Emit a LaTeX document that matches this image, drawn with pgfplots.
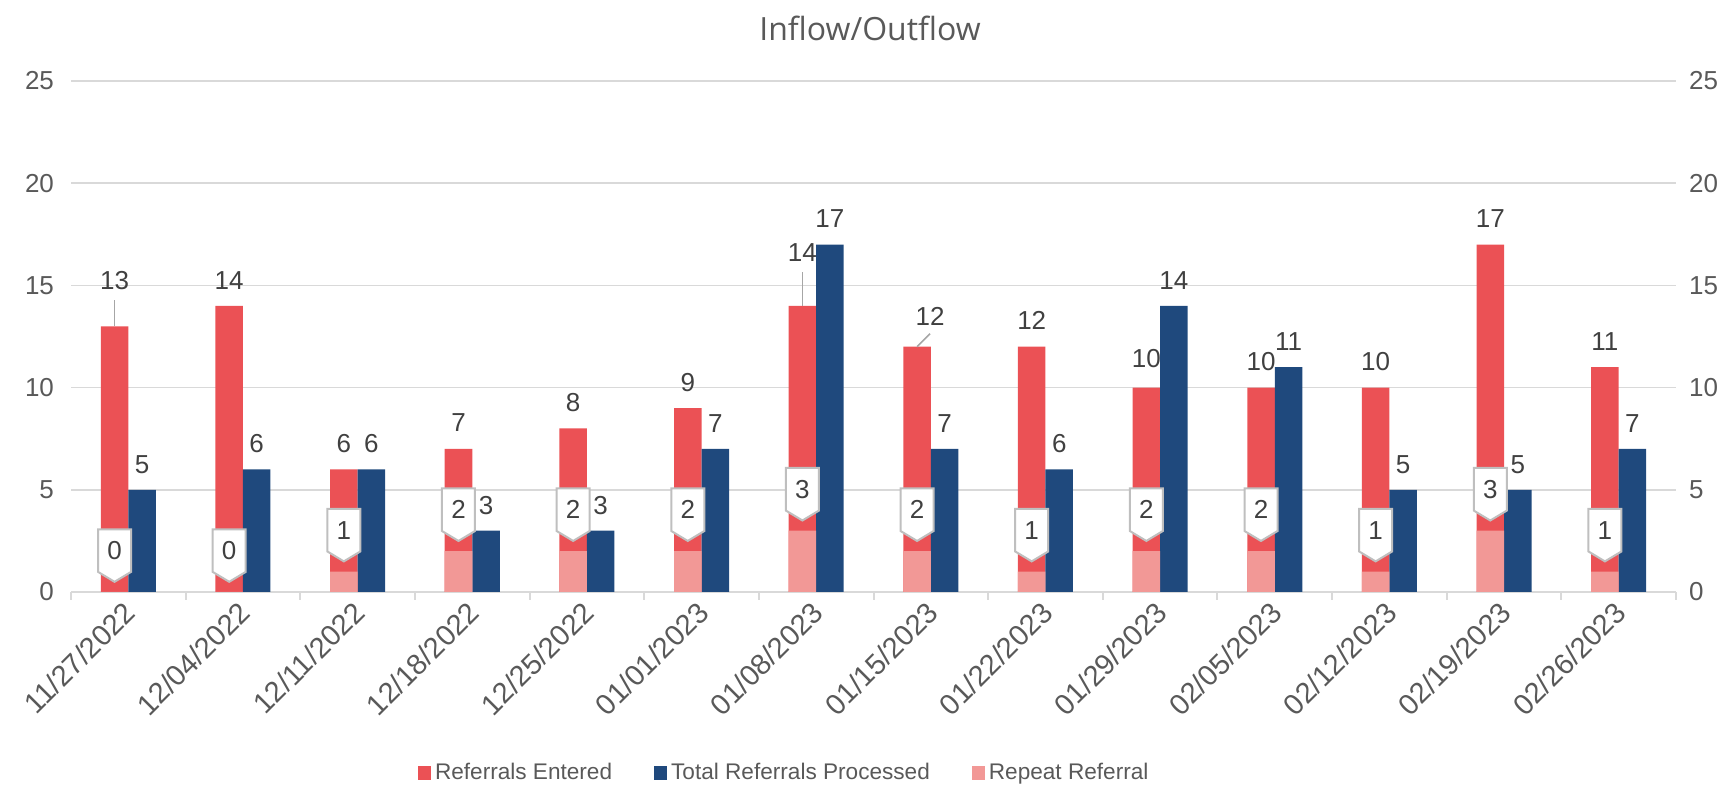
\documentclass[border=0pt]{standalone}
\usepackage{fontspec}
\setmainfont{Liberation Sans}
\newfontfamily\titlefont{Open Sans}
\usepackage{pgfplots}
\usepackage{pgfplotstable}
\pgfplotsset{compat=1.18}
\usetikzlibrary{shapes.symbols}
\definecolor{cRed}{HTML}{EB5155}
\definecolor{cBlue}{HTML}{1F497D}
\definecolor{cPink}{HTML}{F29896}
\definecolor{gridc}{HTML}{D9D9D9}
\definecolor{tickc}{HTML}{595959}
\definecolor{labc}{HTML}{404040}
\definecolor{callb}{HTML}{BFBFBF}
\definecolor{leadc}{HTML}{A6A6A6}

% dx, dy: label offsets (pt) from the bar top at the category centre
\pgfplotstableread{
x y dx dy
0 13 -6.88 18.4
1 14 -6.88 8.3
2 6 -6.88 8.3
3 7 -6.88 8.8
4 8 -6.88 8.3
5 9 -6.88 8.3
6 14 -6.88 22.3
7 12 -0.38 10.8
8 12 -6.88 8.8
9 10 -6.88 9.8
10 10 -6.88 8.3
11 10 -6.88 8.3
12 17 -6.88 8.3
13 11 -6.88 8.3
}\enteredtab

\pgfplotstableread{
x y
0 5
1 6
2 6
3 3
4 3
5 7
6 17
7 7
8 6
9 14
10 11
11 5
12 5
13 7
}\processedtab

\pgfplotstableread{
x y
0 0
1 0
2 1
3 2
4 2
5 2
6 3
7 2
8 1
9 2
10 2
11 1
12 3
13 1
}\repeattab

\newcommand{\numfont}{\fontsize{13}{14}\selectfont}

\begin{document}
\begin{tikzpicture}
\path[use as bounding box] (0,0) rectangle (867pt,392.5pt);
\begin{axis}[
  at={(35.5pt,96.5pt)}, anchor=south west,
  scale only axis, width=802.5pt, height=255.5pt,
  xmin=-0.5, xmax=13.5, ymin=0, ymax=25,
  /pgf/number format/assume math mode=true,
  axis x line*=bottom, axis y line*=left,
  x axis line style={gridc, line width=1pt, -},
  y axis line style={draw=none},
  ytick={0,5,...,25},
  ytick style={draw=none},
  ymajorgrids, grid style={gridc, line width=0.8pt},
  yticklabel style={font=\numfont, text=tickc, xshift=-5pt},
  xtick={0,...,13},
  xticklabels={11/27/2022,12/04/2022,12/11/2022,12/18/2022,12/25/2022,01/01/2023,01/08/2023,01/15/2023,01/22/2023,01/29/2023,02/05/2023,02/12/2023,02/19/2023,02/26/2023},
  major x tick style={draw=none},
  minor xtick={-0.5,0.5,...,13.5},
  minor x tick style={gridc, line width=1pt},
  minor tick length=4pt, major tick length=0pt, tick align=outside,
  xticklabel style={xshift=1pt, yshift=-7.5pt, rotate=45, anchor=east, inner sep=0pt, font=\fontsize{14.5}{15}\selectfont, text=tickc},
  legend style={at={(0.445,-0.354)}, anchor=center, draw=none, fill=none,
    legend columns=3, font=\fontsize{11.3}{12}\selectfont, text=tickc,
    nodes={inner xsep=2pt, inner ysep=1pt},
    /tikz/every even column/.append style={column sep=19pt}},
  legend image code/.code={\fill[#1] (0pt,-3.6pt) rectangle (6.5pt,3.6pt);},
]
\addplot[ybar, bar width=0.24, bar shift=-0.12, fill=cRed, draw=none,
  visualization depends on={\thisrow{dx} \as \ldx},
  visualization depends on={\thisrow{dy} \as \ldy},
  nodes near coords,
  every node near coord/.append style={anchor=base, inner sep=0pt, font=\numfont, text=labc, xshift=\ldx pt, yshift=\ldy pt}]
  table[x=x,y=y] {\enteredtab};
\addlegendentry{Referrals Entered}
\addplot[ybar, bar width=0.24, bar shift=0.12, fill=cBlue, draw=none,
  nodes near coords,
  every node near coord/.append style={anchor=base, inner sep=0pt, font=\numfont, text=labc, xshift=6.88pt, yshift=8.3pt}]
  table[x=x,y=y] {\processedtab};
\addlegendentry{Total Referrals Processed}
\addplot[ybar, bar width=0.24, bar shift=-0.12, fill=cPink, draw=none,
  nodes near coords,
  every node near coord/.append style={shape=signal, signal to=south, signal pointer angle=118,
    draw=callb, line width=1pt, fill=white, minimum width=16.5pt, minimum height=23.5pt,
    inner sep=0pt, anchor=south, xshift=-6.88pt, yshift=4.5pt, font=\numfont, text=labc}]
  table[x=x,y=y] {\repeattab};
\addlegendentry{Repeat Referral}
\draw[leadc, line width=0.8pt] (axis cs:-0.12,13) -- ++(0pt,13.3pt);
\draw[leadc, line width=0.8pt] (axis cs:5.88,14) -- ++(0pt,17pt);
\draw[leadc, line width=0.8pt] (axis cs:6.88,12) -- ++(6.5pt,6.5pt);
\end{axis}
\begin{axis}[
  at={(35.5pt,96.5pt)}, anchor=south west,
  scale only axis, width=802.5pt, height=255.5pt,
  xmin=-0.5, xmax=13.5, ymin=0, ymax=25,
  /pgf/number format/assume math mode=true,
  axis x line=none, axis y line*=right,
  y axis line style={draw=none},
  ytick={0,5,...,25}, ytick style={draw=none},
  yticklabel style={font=\numfont, text=tickc, xshift=3pt},
]
\addplot[draw=none] coordinates {(0,0)};
\end{axis}
\node[font=\titlefont\fontsize{16}{18}\selectfont, text=tickc] at (435pt,378.5pt) {Inflow/Outflow};
\end{tikzpicture}
\end{document}
